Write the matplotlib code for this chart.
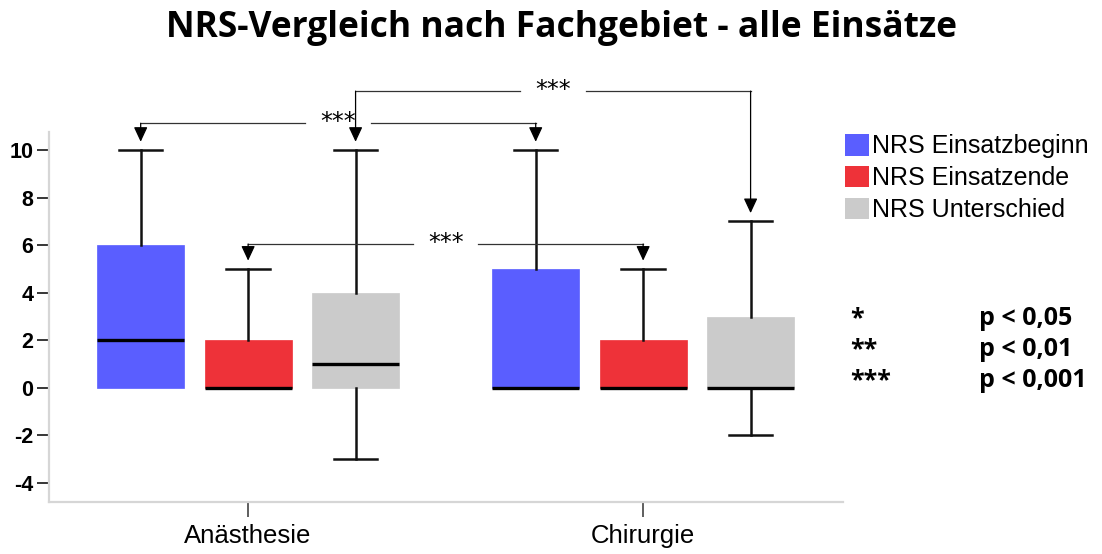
import matplotlib.pyplot as plt
from matplotlib.patches import Patch

# Fachgebiete und Messgrößen
groups = ['Anästhesie', 'Chirurgie']
series = ['NRS Einsatzbeginn', 'NRS Einsatzende', 'NRS Unterschied']
colors = ['#5a5eff', '#ee3239', '#cbcbcb']

# Boxplot-Kennwerte je Messgröße (Anästhesie, Chirurgie)
whislo = [[0, 0], [0, 0], [-3, -2]]
q1 = [[0, 0], [0, 0], [0, 0]]
median = [[2, 0], [0, 0], [1, 0]]
q3 = [[6, 5], [2, 2], [4, 3]]
whishi = [[10, 10], [5, 5], [10, 7]]

# Signifikanzvergleiche: (Gruppe, Reihe) -> (Gruppe, Reihe), Höhe der Klammer
comparisons = [
    ((0, 0), (1, 0), 11.13, '***'),
    ((0, 2), (1, 2), 12.48, '***'),
    ((0, 1), (1, 1), 6.05, '***'),
]
sig_levels = ['*', '**', '***']
sig_labels = ['p < 0,05', 'p < 0,01', 'p < 0,001']

offset = 0.272
box_w = 0.22

fig = plt.figure(figsize=(11.02, 5.54), dpi=100)
ax = fig.add_axes([0.0445, 0.0939, 0.7205, 0.6678])


def xpos(g, s):
    return g + (s - 1) * offset


for s in range(len(series)):
    stats = []
    for g in range(len(groups)):
        stats.append(dict(med=median[s][g], q1=q1[s][g], q3=q3[s][g],
                          whislo=whislo[s][g], whishi=whishi[s][g], fliers=[]))
    parts = ax.bxp(stats, positions=[xpos(g, s) for g in range(len(groups))],
                   widths=box_w, capwidths=box_w / 2, patch_artist=True,
                   showfliers=False, manage_ticks=False,
                   boxprops=dict(facecolor=colors[s], edgecolor=colors[s], linewidth=0.5),
                   medianprops=dict(color='black', linewidth=2.4, solid_capstyle='butt'),
                   whiskerprops=dict(color='#111111', linewidth=1.8),
                   capprops=dict(color='#111111', linewidth=1.8))
    # Whisker ohne Länge nicht zeichnen
    for g, st in enumerate(stats):
        if st['whislo'] == st['q1']:
            parts['caps'][2 * g].set_visible(False)
            parts['whiskers'][2 * g].set_visible(False)
        if st['whishi'] == st['q3']:
            parts['caps'][2 * g + 1].set_visible(False)
            parts['whiskers'][2 * g + 1].set_visible(False)

# Signifikanzklammern mit Pfeilen
gap = 0.083
for (g1, s1), (g2, s2), h, label in comparisons:
    x1, x2 = xpos(g1, s1), xpos(g2, s2)
    mid = (x1 + x2) / 2
    ax.plot([x1, mid - gap], [h, h], color='#333333', lw=0.9, clip_on=False)
    ax.plot([mid + gap, x2], [h, h], color='#333333', lw=0.9, clip_on=False)
    for x, (g, s) in ((x1, (g1, s1)), (x2, (g2, s2))):
        ax.annotate('', xy=(x, whishi[s][g] + 0.35), xytext=(x, h),
                    annotation_clip=False,
                    arrowprops=dict(arrowstyle='-|>,head_width=0.35,head_length=0.75',
                                    mutation_scale=12, color='black', lw=0.9,
                                    shrinkA=0, shrinkB=0))
    ax.annotate(label, xy=(mid, h), xytext=(0, -4), textcoords='offset points',
                ha='center', va='baseline', fontsize=17, family='DejaVu Sans',
                annotation_clip=False)

ax.set_xlim(-0.504, 1.506)
ax.set_ylim(-4.8, 10.76)
ax.set_xticks(range(len(groups)))
ax.set_xticklabels(groups, family='Liberation Sans', fontsize=18.5)
ax.set_yticks(range(-4, 11, 2))
ax.set_yticklabels([str(v) for v in range(-4, 11, 2)], family='Liberation Sans',
                   fontsize=15.5, weight='bold')
ax.tick_params(axis='y', length=8.6, width=1.1, color='black', pad=2.5)
ax.tick_params(axis='x', length=10.5, width=1.1, color='#333333', pad=5.5)

for side in ('top', 'right'):
    ax.spines[side].set_visible(False)
for side in ('left', 'bottom'):
    ax.spines[side].set_color('#d6d6d6')
    ax.spines[side].set_linewidth(1.6)

handles = [Patch(facecolor=c, edgecolor='none') for c in colors]
fig.legend(handles, series, loc='upper left', bbox_to_anchor=(845 / 1102, 1 - 134 / 554),
           frameon=False, borderpad=0, borderaxespad=0, handlelength=0.95,
           handleheight=0.95, handletextpad=0.12, labelspacing=0.3,
           prop=dict(family='Liberation Sans', size=18))

for i, (lvl, lab) in enumerate(zip(sig_levels, sig_labels)):
    yb = 1 - (325 + i * 31) / 554
    fig.text(850 / 1102, yb, lvl, ha='left', va='baseline', family='Open Sans',
             weight='bold', fontsize=18)
    fig.text(979 / 1102, yb, lab, ha='left', va='baseline', family='Open Sans',
             weight='bold', fontsize=18)

fig.text(561 / 1102, 1 - 37 / 554, 'NRS-Vergleich nach Fachgebiet - alle Einsätze',
         ha='center', va='baseline', family='Open Sans', weight='bold', fontsize=25.5)

fig.savefig('out.png', dpi=100)
